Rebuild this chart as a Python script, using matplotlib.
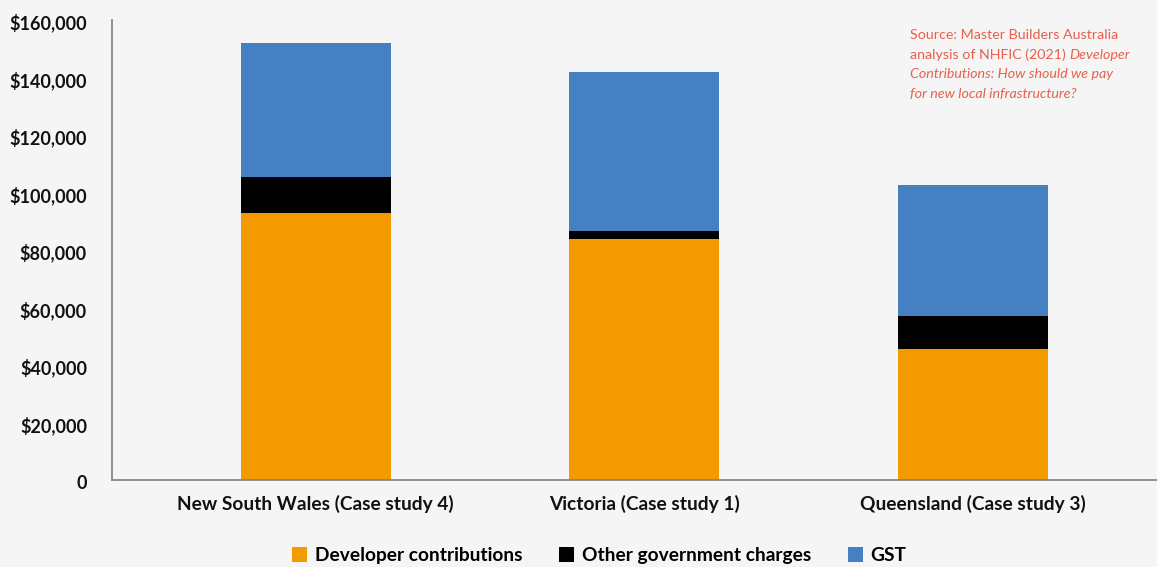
import matplotlib
matplotlib.use("Agg")
import matplotlib.pyplot as plt
from matplotlib.patches import Patch
from matplotlib.ticker import FuncFormatter
import matplotlib.transforms as mtransforms
import numpy as np

# Cost components per case study (AUD)
states = ["New South Wales (Case study 4)", "Victoria (Case study 1)", "Queensland (Case study 3)"]
developer_contributions = [93000, 84000, 45500]
other_gov_charges = [12500, 2500, 11500]
gst = [46500, 55500, 45500]

series_names = ["Developer contributions", "Other government charges", "GST"]
colors = ["#F39A00", "#000000", "#4580C2"]
bg = "#F5F5F5"
src_color = "#E8604C"

plt.rcParams["font.family"] = ["Lato", "DejaVu Sans"]

fig = plt.figure(figsize=(11.57, 5.67), dpi=100, facecolor=bg)
ax = fig.add_axes([0.0968, 0.1534, 0.9032, 0.8113], facecolor=bg)

x = np.arange(len(states))
w = 0.457
dev = np.array(developer_contributions)
oth = np.array(other_gov_charges)
g = np.array(gst)
ax.bar(x, dev, w, color=colors[0], zorder=2)
ax.bar(x, oth, w, bottom=dev, color=colors[1], zorder=2)
ax.bar(x, g, w, bottom=dev + oth, color=colors[2], zorder=2)

ax.set_xlim(-0.62, 2.56)
ax.set_ylim(0, 160000)
ax.set_yticks(np.arange(0, 160001, 20000))
ax.yaxis.set_major_formatter(FuncFormatter(lambda v, p: "0" if v == 0 else f"${v:,.0f}"))
ax.set_xticks(x)
ax.set_xticklabels(states)
ax.tick_params(axis="both", length=0, colors="#111111")
ax.tick_params(axis="y", pad=18, labelsize=13)
ax.tick_params(axis="x", pad=11, labelsize=13.8)
for lbl in ax.get_yticklabels():
    lbl.set_fontweight("bold")
    lbl.set_verticalalignment("center")
for lbl in ax.get_xticklabels():
    lbl.set_fontweight("bold")
# nudge y labels slightly downward
offset = mtransforms.ScaledTranslation(0, -3 / 100, fig.dpi_scale_trans)
for lbl in ax.get_yticklabels():
    lbl.set_transform(lbl.get_transform() + offset)

for side in ["top", "right"]:
    ax.spines[side].set_visible(False)
for side in ["left", "bottom"]:
    ax.spines[side].set_color("#808080")
    ax.spines[side].set_linewidth(1.2)

# Legend
handles = [Patch(facecolor=c, edgecolor="none") for c in colors]
leg = fig.legend(handles, series_names, loc="center", bbox_to_anchor=(0.518, 0.02),
                 ncol=3, frameon=False, handlelength=0.8, handleheight=0.8,
                 handletextpad=0.4, columnspacing=1.9,
                 prop={"family": ["Lato", "DejaVu Sans"], "weight": "bold", "size": 13.8})

# Source note with italic title
fig.canvas.draw()
renderer = fig.canvas.get_renderer()
fs = 10.3
x0 = 910 / 1157
lines_y = [35, 55, 74, 94]

def put(xf, ypx, s, style="normal"):
    t = fig.text(xf, 1 - ypx / 567, s, fontsize=fs, color=src_color, style=style,
                 va="center", ha="left")
    return t

put(x0, lines_y[0], "Source: Master Builders Australia")
t = put(x0, lines_y[1], "analysis of NHFIC (2021) ")
bb = t.get_window_extent(renderer)
put(bb.x1 / fig.bbox.width, lines_y[1], "Developer", style="italic")
put(x0, lines_y[2], "Contributions: How should we pay", style="italic")
put(x0, lines_y[3], "for new local infrastructure?", style="italic")

fig.savefig("out.png", dpi=100, facecolor=bg)
